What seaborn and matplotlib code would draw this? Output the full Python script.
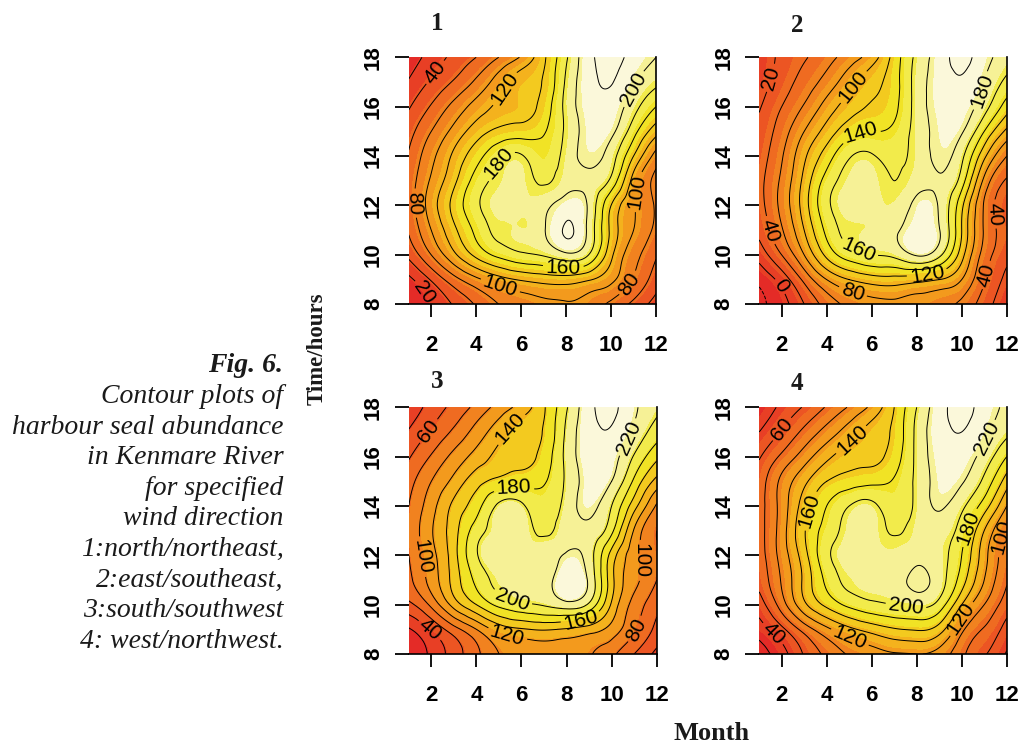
import numpy as np
import matplotlib
matplotlib.use("Agg")
import matplotlib.pyplot as plt
import matplotlib.tri as mtri
import seaborn as sns

# grid of the fitted surface: month (columns) x hour (rows, 18 at the top)
months = [1, 2, 3, 4, 5, 6, 7, 8, 9, 10, 11, 12]
hours_top_down = [18, 17, 16, 15, 14, 13, 12, 11, 10, 9, 8]

# 1: north/northeast
seals_1 = [
    [8, 28, 45, 60, 80, 102, 136, 177, 214, 225, 214, 200],
    [22, 43, 62, 84, 110, 130, 142, 183, 213, 221, 203, 185],
    [38, 62, 86, 108, 124, 132, 148, 186, 210, 212, 188, 160],
    [52, 80, 106, 130, 145, 150, 158, 184, 208, 205, 168, 128],
    [62, 94, 124, 152, 175, 182, 168, 188, 205, 190, 140, 92],
    [68, 103, 135, 168, 186, 190, 177, 192, 196, 175, 112, 75],
    [68, 110, 146, 176, 190, 190, 195, 210, 197, 140, 102, 78],
    [62, 100, 135, 165, 185, 188, 198, 222, 195, 135, 100, 75],
    [45, 80, 115, 145, 165, 176, 182, 195, 180, 125, 88, 62],
    [15, 42, 72, 95, 112, 122, 128, 130, 122, 105, 78, 50],
    [0, 20, 42, 62, 80, 88, 95, 98, 92, 75, 55, 30],
]
# 2: east/southeast
seals_2 = [
    [5, 25, 38, 52, 70, 90, 128, 165, 190, 205, 188, 170],
    [10, 30, 48, 68, 92, 112, 132, 168, 190, 198, 180, 155],
    [18, 40, 62, 88, 110, 122, 135, 168, 188, 190, 168, 130],
    [25, 50, 80, 108, 132, 140, 145, 168, 186, 182, 140, 95],
    [30, 58, 96, 130, 158, 162, 155, 168, 184, 165, 105, 60],
    [34, 64, 106, 148, 168, 170, 160, 172, 178, 150, 75, 38],
    [32, 66, 110, 155, 170, 170, 168, 185, 178, 125, 58, 30],
    [25, 58, 100, 145, 165, 168, 176, 192, 181, 120, 58, 32],
    [8, 40, 80, 125, 150, 160, 165, 182, 165, 108, 52, 26],
    [-15, 8, 45, 80, 100, 110, 112, 108, 100, 80, 42, 15],
    [-25, -8, 20, 48, 65, 72, 75, 72, 66, 55, 30, 5],
]
# 3: south/southwest
seals_3 = [
    [25, 48, 66, 86, 108, 128, 158, 198, 234, 244, 224, 205],
    [42, 63, 84, 108, 132, 150, 162, 204, 233, 238, 216, 190],
    [58, 82, 106, 128, 146, 154, 168, 206, 230, 228, 198, 165],
    [72, 100, 126, 152, 166, 172, 178, 204, 228, 220, 176, 133],
    [80, 112, 145, 172, 204, 204, 188, 208, 225, 200, 148, 97],
    [82, 118, 152, 190, 208, 210, 196, 212, 215, 185, 118, 80],
    [80, 113, 152, 198, 210, 210, 212, 222, 210, 152, 108, 82],
    [75, 108, 148, 185, 205, 208, 210, 236, 216, 147, 106, 80],
    [55, 85, 128, 160, 185, 196, 202, 212, 196, 137, 93, 66],
    [18, 42, 72, 100, 128, 138, 142, 138, 130, 112, 83, 54],
    [2, 24, 50, 75, 100, 106, 110, 110, 102, 85, 60, 34],
]
# 4: west/northwest
seals_4 = [
    [22, 45, 62, 82, 102, 125, 160, 200, 232, 245, 232, 215],
    [40, 62, 85, 108, 130, 148, 165, 205, 232, 240, 225, 205],
    [58, 84, 110, 135, 150, 155, 170, 205, 228, 230, 212, 180],
    [68, 105, 135, 160, 170, 175, 182, 205, 226, 222, 195, 150],
    [72, 108, 150, 180, 200, 205, 190, 205, 222, 205, 170, 120],
    [72, 110, 158, 188, 208, 210, 198, 208, 212, 190, 140, 95],
    [70, 108, 152, 195, 210, 210, 208, 215, 208, 180, 128, 88],
    [66, 102, 145, 185, 205, 208, 212, 224, 210, 170, 120, 82],
    [50, 90, 135, 165, 185, 195, 200, 205, 192, 140, 100, 70],
    [30, 55, 88, 115, 135, 148, 158, 162, 150, 105, 78, 52],
    [10, 32, 62, 85, 102, 110, 118, 120, 112, 85, 62, 38],
]

panels = ["1", "2", "3", "4"]
surfaces = [seals_1, seals_2, seals_3, seals_4]

# where R put the contour labels: (level, month, hour)
label_spots = {
    "1": [(40, 2.24, 17.35), (120, 5.13, 16.8), (200, 10.84, 16.8), (180, 5.65, 13.3),
          (80, 1.42, 12.1), (100, 11.14, 12.56), (160, 7.88, 9.6), (100, 5.06, 8.72),
          (80, 10.7, 8.9), (20, 1.64, 8.45)],
    "2": [(20, 1.78, 17.1), (100, 5.19, 16.8), (140, 5.48, 15.0), (180, 10.67, 16.7),
          (160, 5.63, 10.6), (120, 8.44, 9.39), (80, 5.19, 8.58), (40, 11.4, 9.12),
          (40, 11.85, 11.68), (40, 1.48, 11.0), (0, 1.93, 8.72)],
    "3": [(60, 1.94, 17.0), (140, 5.5, 17.15), (180, 5.65, 14.9), (220, 10.7, 16.8),
          (100, 1.64, 11.95), (200, 5.8, 10.73), (160, 8.62, 9.5), (120, 5.35, 8.7),
          (40, 1.94, 8.97), (100, 11.44, 11.8), (80, 11.14, 8.97)],
    "4": [(60, 1.78, 17.28), (140, 5.04, 16.74), (160, 3.11, 13.84), (220, 10.96, 16.81),
          (180, 10.22, 13.16), (100, 11.7, 12.76), (200, 7.56, 10.19), (120, 5.04, 8.7),
          (120, 10.07, 9.38), (40, 1.63, 8.84)],
}

caption = ["Contour plots of", "harbour seal abundance", "in Kenmare River",
           "for specified", "wind direction", "1:north/northeast,",
           "2:east/southeast,", "3:south/southwest", "4: west/northwest."]

# R heat.colors(12), a bit muted like the printed page
heat = sns.color_palette(["#E42B27", "#E83F25", "#EC5523", "#EF6B21", "#F1821F", "#F39A1D",
                          "#F4B21D", "#F3CA1F", "#F1E325", "#F2EB4B", "#F6F196", "#FBF8DA"])

sns.set_theme(style="white")
plt.rcParams["font.family"] = ["Liberation Sans", "DejaVu Sans"]

W, H = 1019, 745
fig = plt.figure(figsize=(W / 100, H / 100), dpi=100)

# axes boxes in pixels: left, top, right, bottom
boxes = {"1": (408.8, 57.3, 656.0, 304.3), "2": (759.2, 57.3, 1006.7, 304.3),
         "3": (408.8, 407.3, 656.7, 654.0), "4": (759.2, 407.3, 1006.7, 654.0)}
title_xy = {"1": (437, 24), "2": (797, 25), "3": (437, 382), "4": (797, 383)}
ink = "#1a1a1a"

xx, yy = np.meshgrid(months, hours_top_down[::-1])
tri = mtri.Triangulation(xx.ravel().astype(float), yy.ravel().astype(float))
refiner = mtri.UniformTriRefiner(tri)

for name, surf in zip(panels, surfaces):
    l, t, r, b = boxes[name]
    ax = fig.add_axes([l / W, 1 - b / H, (r - l) / W, (b - t) / H])
    z = np.array(surf, dtype=float)[::-1]
    tri_f, z_f = refiner.refine_field(z.ravel(), subdiv=4)

    bands = np.linspace(z_f.min() - 1e-6, z_f.max() + 1e-6, 13)
    ax.tricontourf(tri_f, z_f, levels=bands, colors=heat)

    lines = np.arange(-20, 261, 20).astype(float)
    lines = lines[(lines > z_f.min()) & (lines < z_f.max())]
    spots = label_spots[name]
    for lev in lines:
        cs = ax.tricontour(tri_f, z_f, levels=[lev], colors="black", linewidths=0.7)
        here = [(mx, hy) for lv, mx, hy in spots if lv == lev]
        if here:
            ax.clabel(cs, manual=here, inline=True, inline_spacing=3,
                      fontsize=15, fmt="%d")

    ax.set_xlim(1, 12)
    ax.set_ylim(8, 18)
    ax.set_xticks([2, 4, 6, 8, 10, 12])
    ax.set_yticks([8, 10, 12, 14, 16, 18])
    ax.tick_params(axis="x", length=9, width=1.3, color="black", pad=13,
                   labelsize=16, direction="out", bottom=True)
    ax.tick_params(axis="y", length=10, width=1.3, color="black", pad=8,
                   labelsize=16, direction="out", left=True)
    for lab in ax.get_xticklabels() + ax.get_yticklabels():
        lab.set_fontweight("bold")
        lab.set_color("black")
    for lab in ax.get_yticklabels():
        lab.set_rotation(90)
        lab.set_va("center")
    for side in ["left", "top"]:
        ax.spines[side].set_visible(False)
    for side in ["bottom", "right"]:
        ax.spines[side].set_color("black")
        ax.spines[side].set_linewidth(1.2)

    tx, ty = title_xy[name]
    fig.text(tx / W, 1 - ty / H, name, ha="center", va="center", fontsize=18,
             fontweight="bold", family="Liberation Serif", color=ink)

fig.text(317 / W, 1 - 349 / H, "Time/hours", rotation=90, ha="center", va="center",
         fontsize=16.5, fontweight="bold", family="Liberation Serif", color=ink)
fig.text(712 / W, 1 - 740 / H, "Month", ha="center", va="baseline",
         fontsize=19, fontweight="bold", family="Liberation Serif", color=ink)

fig.text(283.5 / W, 1 - 372 / H, "Fig. 6.", ha="right", va="baseline", fontsize=20,
         fontweight="bold", style="italic", family="Liberation Serif", color=ink)
for i, line in enumerate(caption):
    fig.text(283.5 / W, 1 - (403 + 30.6 * i) / H, line, ha="right", va="baseline",
             fontsize=20, style="italic", family="Liberation Serif", color=ink)

fig.savefig("out.png", dpi=100)
